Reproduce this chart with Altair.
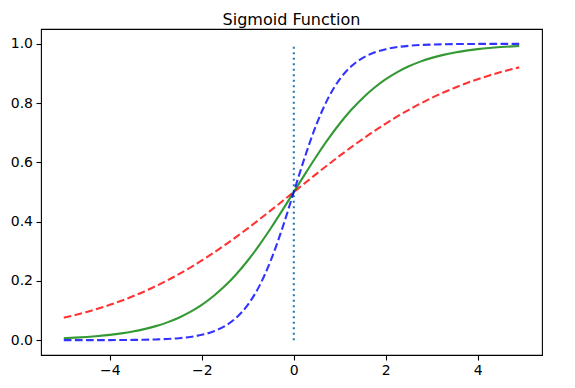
import altair as alt
import pandas as pd

x_vals = [-5.0, -4.75, -4.5, -4.25, -4.0, -3.75, -3.5, -3.25, -3.0, -2.75, -2.5, -2.25, -2.0,
          -1.75, -1.5, -1.25, -1.0, -0.75, -0.5, -0.25, 0.0, 0.25, 0.5, 0.75, 1.0, 1.25, 1.5,
          1.75, 2.0, 2.25, 2.5, 2.75, 3.0, 3.25, 3.5, 3.75, 4.0, 4.25, 4.5, 4.75, 4.9]

red_vals = [0.07586, 0.08510, 0.09535, 0.10669, 0.11920, 0.13296, 0.14805, 0.16452, 0.18243,
            0.20181, 0.22270, 0.24509, 0.26894, 0.29422, 0.32082, 0.34865, 0.37754, 0.40733,
            0.43782, 0.46879, 0.50000, 0.53121, 0.56218, 0.59267, 0.62246, 0.65135, 0.67918,
            0.70578, 0.73106, 0.75491, 0.77730, 0.79819, 0.81757, 0.83548, 0.85195, 0.86704,
            0.88080, 0.89331, 0.90465, 0.91490, 0.92056]

green_vals = [0.00669, 0.00858, 0.01099, 0.01406, 0.01799, 0.02298, 0.02931, 0.03733, 0.04743,
              0.06009, 0.07586, 0.09535, 0.11920, 0.14805, 0.18243, 0.22270, 0.26894, 0.32082,
              0.37754, 0.43782, 0.50000, 0.56218, 0.62246, 0.67918, 0.73106, 0.77730, 0.81757,
              0.85195, 0.88080, 0.90465, 0.92414, 0.93991, 0.95257, 0.96267, 0.97069, 0.97702,
              0.98201, 0.98594, 0.98901, 0.99142, 0.99261]

blue_vals = [0.00005, 0.00007, 0.00012, 0.00020, 0.00034, 0.00055, 0.00091, 0.00150, 0.00247,
             0.00407, 0.00669, 0.01099, 0.01799, 0.02931, 0.04743, 0.07586, 0.11920, 0.18243,
             0.26894, 0.37754, 0.50000, 0.62246, 0.73106, 0.81757, 0.88080, 0.92414, 0.95257,
             0.97069, 0.98201, 0.98901, 0.99331, 0.99593, 0.99753, 0.99850, 0.99909, 0.99945,
             0.99966, 0.99980, 0.99988, 0.99993, 0.99994]

vline_x = [0.0]
vline_y = [0.0]
vline_y2 = [1.0]

x_ticks = [-4, -2, 0, 2, 4]
y_ticks = [0.0, 0.2, 0.4, 0.6, 0.8, 1.0]
x_domain = [-5.495, 5.395]
y_domain = [-0.05, 1.05]

df = pd.DataFrame({"x": x_vals, "red": red_vals, "green": green_vals, "blue": blue_vals})
vdf = pd.DataFrame({"x": vline_x, "y": vline_y, "y2": vline_y2})

xs = alt.Scale(domain=x_domain, nice=False, zero=False)
ys = alt.Scale(domain=y_domain, nice=False, zero=False)
axis_style = dict(grid=False, domain=False, ticks=True, tickColor="#000", tickSize=5,
                  tickWidth=1.1, labelFont="DejaVu Sans", labelFontSize=14,
                  labelColor="#000", labelPadding=3.5, title=None)
xax = alt.Axis(values=x_ticks, format="d", **axis_style)
yax = alt.Axis(values=y_ticks, format=".1f", **axis_style)

base = alt.Chart(df)

vline = alt.Chart(vdf).mark_rule(color="#1f77b4", strokeWidth=2, strokeDash=[2, 3.5]).encode(
    x=alt.X("x:Q", scale=xs, axis=xax),
    y=alt.Y("y:Q", scale=ys, axis=yax),
    y2="y2:Q",
)

red = base.mark_line(color="#ff0000", opacity=0.8, strokeWidth=2.1, strokeDash=[7.7, 3.4],
                     interpolate="monotone").encode(
    x=alt.X("x:Q", scale=xs, axis=xax), y=alt.Y("red:Q", scale=ys, axis=yax))

green = base.mark_line(color="#008000", opacity=0.8, strokeWidth=2.1,
                       interpolate="monotone").encode(
    x=alt.X("x:Q", scale=xs, axis=xax), y=alt.Y("green:Q", scale=ys, axis=yax))

blue = base.mark_line(color="#0000ff", opacity=0.8, strokeWidth=2.1, strokeDash=[7.7, 3.4],
                      interpolate="monotone").encode(
    x=alt.X("x:Q", scale=xs, axis=xax), y=alt.Y("blue:Q", scale=ys, axis=yax))

chart = alt.layer(vline, red, green, blue).properties(
    width=501,
    height=326,
    title=alt.TitleParams("Sigmoid Function", fontSize=16, font="DejaVu Sans",
                          fontWeight="normal", color="#000", offset=1, anchor="middle"),
    autosize=alt.AutoSizeParams(type="none"),
    padding={"left": 33, "top": 21, "right": 20, "bottom": 24},
    background="white",
).configure_view(stroke="#000", strokeWidth=1.1)

chart.save("out.html", embed_options={"renderer": "svg", "actions": False})
